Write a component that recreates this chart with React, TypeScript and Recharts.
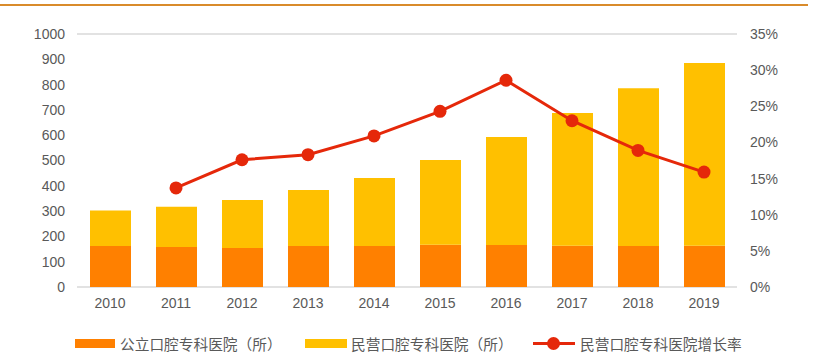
import { ComposedChart, Bar, Line, XAxis, YAxis, CartesianGrid } from "recharts"

const years = ["2010", "2011", "2012", "2013", "2014", "2015", "2016", "2017", "2018", "2019"]
const publicHospitals = [162, 158, 154, 162, 162, 167, 166, 163, 162, 163]
const privateHospitals = [140, 159, 190, 221, 269, 335, 427, 525, 624, 722]
const privateGrowth = [null, 0.137, 0.176, 0.183, 0.209, 0.243, 0.286, 0.23, 0.189, 0.159]
const leftTicks = [0, 100, 200, 300, 400, 500, 600, 700, 800, 900, 1000]
const rightTicks = [0, 0.05, 0.1, 0.15, 0.2, 0.25, 0.3, 0.35]

const seriesNames = ["公立口腔专科医院（所）", "民营口腔专科医院（所）", "民营口腔专科医院增长率"]

const data = years.map((year, i) => ({
  year,
  pub: publicHospitals[i],
  pri: privateHospitals[i],
  growth: privateGrowth[i],
}))

const font = '"Liberation Sans", Arial, "Noto Sans CJK SC", sans-serif'
const tickStyle = { fill: "#595959", fontSize: 14, fontFamily: font }

export default function App() {
  return (
    <div style={{ position: "absolute", left: 0, top: 0, width: 813, height: 359, background: "#fff", fontFamily: font }}>
      <div style={{ position: "absolute", left: 0, top: 4, width: 808, height: 2, background: "#d98b2b" }} />
      <ComposedChart width={813} height={320} data={data} margin={{ top: 34, right: 0, left: 0, bottom: 3 }}>
        <CartesianGrid vertical={false} stroke="#d9d9d9" strokeWidth={1.5} />
        <XAxis dataKey="year" axisLine={false} tickLine={false} tickSize={0} tickMargin={11} height={30} tick={tickStyle} />
        <YAxis
          yAxisId="left"
          domain={[0, 1000]}
          ticks={leftTicks}
          axisLine={false}
          tickLine={false}
          tickSize={0}
          tickMargin={12}
          width={77}
          tick={tickStyle}
        />
        <YAxis
          yAxisId="right"
          orientation="right"
          domain={[0, 0.35]}
          ticks={rightTicks}
          axisLine={false}
          tickLine={false}
          tickSize={0}
          tickMargin={13}
          width={76}
          tick={tickStyle}
          tickFormatter={(v: number) => `${Math.round(v * 100)}%`}
        />
        <Bar yAxisId="left" dataKey="pub" stackId="a" fill="#ff8000" barSize={41} isAnimationActive={false} />
        <Bar yAxisId="left" dataKey="pri" stackId="a" fill="#ffc000" barSize={41} isAnimationActive={false} />
        <Line
          yAxisId="right"
          dataKey="growth"
          stroke="#e5280a"
          strokeWidth={3}
          dot={{ r: 6.5, fill: "#e5280a", stroke: "#e5280a", strokeWidth: 0 }}
          isAnimationActive={false}
        />
      </ComposedChart>
      <div style={{ position: "absolute", top: 333, left: 0, width: 813, height: 20, fontSize: 14.7, color: "#595959", fontFamily: font }}>
        <div style={{ position: "absolute", left: 75, top: 6, width: 40, height: 9, background: "#ff8000" }} />
        <span style={{ position: "absolute", left: 120, top: 0, whiteSpace: "nowrap" }}>{seriesNames[0]}</span>
        <div style={{ position: "absolute", left: 305, top: 6, width: 42, height: 9, background: "#ffc000" }} />
        <span style={{ position: "absolute", left: 351, top: 0, whiteSpace: "nowrap" }}>{seriesNames[1]}</span>
        <div style={{ position: "absolute", left: 533, top: 9, width: 42, height: 3, background: "#e5280a" }} />
        <div style={{ position: "absolute", left: 547, top: 4, width: 13, height: 13, borderRadius: 7, background: "#e5280a" }} />
        <span style={{ position: "absolute", left: 580, top: 0, whiteSpace: "nowrap" }}>{seriesNames[2]}</span>
      </div>
    </div>
  )
}
